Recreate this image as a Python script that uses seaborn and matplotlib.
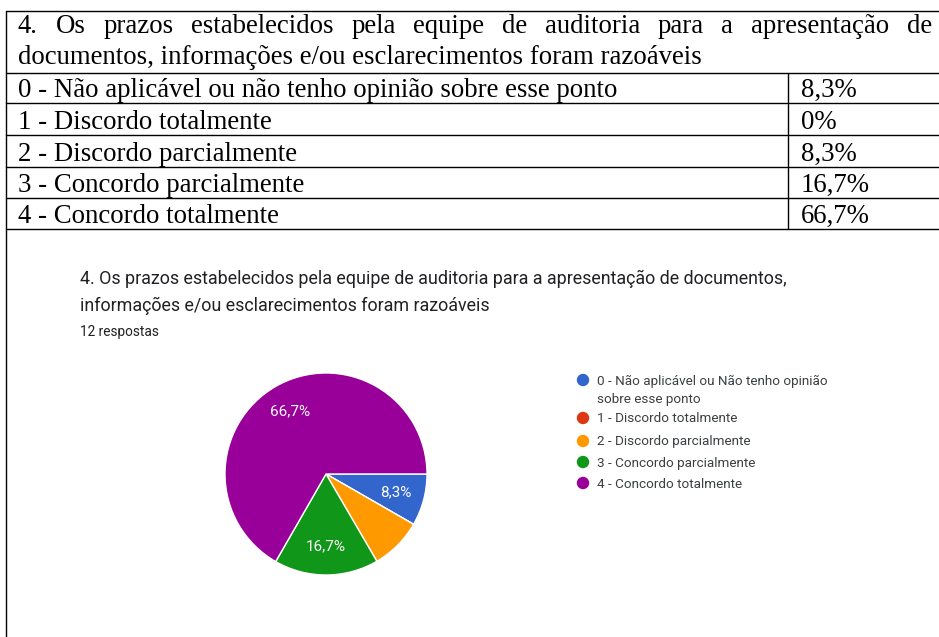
import matplotlib
matplotlib.use("Agg")
import matplotlib.pyplot as plt
import seaborn as sns

table_title = ["4. Os prazos estabelecidos pela equipe de auditoria para a apresentação de",
               "documentos, informações e/ou esclarecimentos foram razoáveis"]
table_labels = ["0 - Não aplicável ou não tenho opinião sobre esse ponto",
                "1 - Discordo totalmente",
                "2 - Discordo parcialmente",
                "3 - Concordo parcialmente",
                "4 - Concordo totalmente"]
legend_labels = ["0 - Não aplicável ou Não tenho opinião\nsobre esse ponto",
                 "1 - Discordo totalmente",
                 "2 - Discordo parcialmente",
                 "3 - Concordo parcialmente",
                 "4 - Concordo totalmente"]
percent = [8.3, 0, 8.3, 16.7, 66.7]
percent_text = ["8,3%", "0%", "8,3%", "16,7%", "66,7%"]
chart_title = ["4. Os prazos estabelecidos pela equipe de auditoria para a apresentação de documentos,",
               "informações e/ou esclarecimentos foram razoáveis"]
responses = "12 respostas"

sns.set_theme(style="white")
plt.rcParams['font.family'] = ['Roboto', 'DejaVu Sans']
colors = sns.color_palette(["#3366cc", "#dc3912", "#ff9900", "#109618", "#990099"])

W, H = 939, 637
fig = plt.figure(figsize=(W / 100, H / 100), dpi=100, facecolor='white')

# overlay axes in pixel coordinates for the table and text
ax = fig.add_axes([0, 0, 1, 1])
ax.set_xlim(0, W)
ax.set_ylim(H, 0)
ax.axis('off')

lw = 1.0
# table borders
ax.plot([5.5, 5.5], [11, H], color='black', lw=lw)
for y in [11, 73, 103, 135, 167, 198, 229]:
    ax.plot([5.5, W], [y, y], color='black', lw=lw)
ax.plot([788, 788], [73, 229], color='black', lw=lw)

serif = dict(family='Liberation Serif', fontsize=19.3, color='black', va='baseline')
renderer = fig.canvas.get_renderer()

# justified first header line
words = table_title[0].split(' ')
texts = [ax.text(0, 33, w, **serif) for w in words]
widths = [t.get_window_extent(renderer).width for t in texts]
gap = (932 - 18 - sum(widths)) / (len(words) - 1)
x = 18
for t, w in zip(texts, widths):
    t.set_x(x)
    x += w + gap
ax.text(18, 64, table_title[1], **serif)

row_bottoms = [103, 135, 167, 198, 229]
for label, pct, yb in zip(table_labels, percent_text, row_bottoms):
    ax.text(18, yb - 6, label, **serif)
    ax.text(801, yb - 6, pct, **serif)

# chart header
ax.text(80, 284, chart_title[0], fontsize=12.9, color='#202124', va='baseline')
ax.text(80, 311, chart_title[1], fontsize=12.9, color='#202124', va='baseline')
ax.text(80, 336, responses, fontsize=9.8, color='#202124', va='baseline')

# legend
dot_y = [380, 418, 441, 462, 483]
ax.scatter([583] * len(dot_y), dot_y, s=80, c=colors, linewidths=0)
for lab, y in zip(legend_labels, dot_y):
    for i, line in enumerate(lab.split('\n')):
        ax.text(597, y + 4.5 + i * 18, line, fontsize=9.7, color='#3c4043', va='baseline')

# pie
cx, cy, r = 326, 474, 101
ax_pie = fig.add_axes([(cx - r) / W, 1 - (cy + r) / H, 2 * r / W, 2 * r / H])
wedges, _, autotexts = ax_pie.pie(
    percent, colors=colors, startangle=0, counterclock=False,
    autopct=lambda p: f"{p:.1f}".replace('.', ',') + '%', pctdistance=0.72,
    wedgeprops=dict(edgecolor='white', linewidth=1),
    textprops=dict(color='white', fontsize=11))
for i, t in enumerate(autotexts):
    if percent[i] == 0 or i == 2:
        t.set_visible(False)
ax_pie.set_xlim(-1, 1)
ax_pie.set_ylim(-1, 1)

fig.savefig('out.png', dpi=100, facecolor='white')
